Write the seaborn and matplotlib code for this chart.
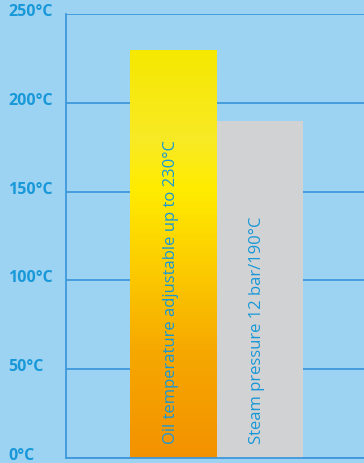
import numpy as np
import pandas as pd
import matplotlib
matplotlib.use("Agg")
import matplotlib.pyplot as plt
import matplotlib.transforms as mtransforms
import seaborn as sns
from matplotlib.colors import LinearSegmentedColormap

# ---- data ----
categories = ["Oil temperature adjustable up to 230°C", "Steam pressure 12 bar/190°C"]
values = [230, 190]
y_ticks = [0, 50, 100, 150, 200, 250]
y_tick_labels = ["0°C", "50°C", "100°C", "150°C", "200°C", "250°C"]

# ---- style ----
bg = "#9DD3F2"
line_col = "#3F98DC"
text_col = "#1898D8"
grey = "#D1D2D4"
grad_stops = [(0.0, "#F39200"), (0.26, "#F6A800"), (0.46, "#FCCB00"),
              (0.66, "#FFEC00"), (0.78, "#F8EA25"), (1.0, "#F5E800")]

sns.set_theme(style="white")
plt.rcParams['font.family'] = ['Open Sans', 'DejaVu Sans']

fig = plt.figure(figsize=(3.64, 4.63), dpi=100, facecolor=bg)
ax = fig.add_axes([66 / 364, 5 / 463, 1 - 66 / 364, 444 / 463])
ax.set_facecolor(bg)

df = pd.DataFrame({"label": categories, "value": values})
sns.barplot(data=df, x="label", y="value", ax=ax, width=1.0, color=grey,
            saturation=1, linewidth=0, zorder=2)

# gradient fill for the oil bar
bar = ax.patches[0]
cmap = LinearSegmentedColormap.from_list("oil", grad_stops)
grad = np.linspace(0, 1, 256).reshape(-1, 1)
im = ax.imshow(grad, extent=[bar.get_x(), bar.get_x() + bar.get_width(), 0, bar.get_height()],
               aspect="auto", cmap=cmap, origin="lower", zorder=2.5)
im.set_clip_path(bar)
bar.set_facecolor("none")

ax.set_xlim(-1.242, 2.211)
ax.set_ylim(0, 250)

# bar texts
for i, txt in enumerate(categories):
    ax.text(i - 0.03, 8, txt, rotation=90, ha="center", va="bottom",
            color=text_col, fontsize=12, zorder=4)

# axes styling
ax.set_xlabel("")
ax.set_ylabel("")
ax.set_xticks([0], labels=[""])
ax.tick_params(axis="x", length=4, width=1, color="#222222", direction="out", pad=0)
ax.set_yticks(y_ticks, labels=y_tick_labels)
ax.tick_params(axis="y", length=0, pad=41.8, labelcolor=text_col, labelsize=11.5)
offset = mtransforms.ScaledTranslation(0, 2 / 100, fig.dpi_scale_trans)
for lab in ax.get_yticklabels():
    lab.set_horizontalalignment("left")
    lab.set_verticalalignment("center")
    lab.set_fontweight("bold")
    lab.set_transform(lab.get_transform() + offset)

ax.yaxis.grid(True, color=line_col, linewidth=1.3)
ax.set_axisbelow(True)
for s in ["top", "right"]:
    ax.spines[s].set_visible(False)
for s in ["left", "bottom"]:
    ax.spines[s].set_color(line_col)
    ax.spines[s].set_linewidth(1.3)

fig.savefig("out.png", dpi=100, facecolor=bg)
